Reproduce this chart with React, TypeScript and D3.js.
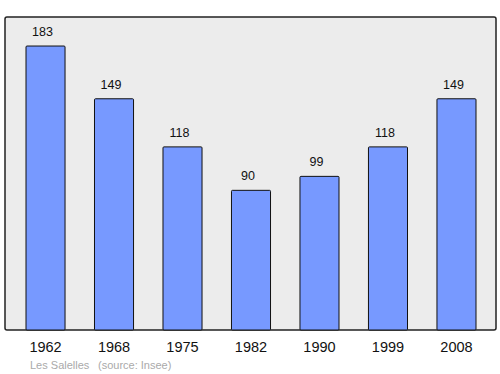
import React from "react";
import * as d3 from "d3";

const years = ["1962", "1968", "1975", "1982", "1990", "1999", "2008"];
const population = [183, 149, 118, 90, 99, 118, 149];
const commune = "Les Salelles";
const source = "(source: Insee)";

export default function App() {
  const W = 500, H = 374;
  const frame = { left: 5, top: 17, right: 496, bottom: 330 };
  const x = d3.scaleBand<string>().domain(years).range([26, 476]).paddingInner(0.43).paddingOuter(0);
  const y = d3.scaleLinear().domain([0, 201.7]).range([frame.bottom, frame.top]);
  return (
    <svg width={W} height={H} style={{ position: "absolute", left: 0, top: 0 }} fontFamily="'Liberation Sans', Arial, sans-serif">
      <rect x={0} y={0} width={W} height={H} fill="#ffffff" />
      <rect x={frame.left} y={frame.top} width={frame.right - frame.left} height={frame.bottom - frame.top}
        fill="#ececec" stroke="#222" strokeWidth={1.5} rx={2} />
      {years.map((yr, i) => {
        const v = population[i];
        const bx = x(yr)!;
        const bw = x.bandwidth();
        return (
          <g key={yr}>
            <rect x={bx} y={y(v)} width={bw} height={frame.bottom - y(v)} fill="#7799ff" stroke="#111" strokeWidth={1} rx={1} />
            <text x={bx + bw / 2 - 3} y={y(v) - 10} textAnchor="middle" fontSize={12.5} fill="#111">{v}</text>
            <text x={bx + bw / 2} y={352} textAnchor="middle" fontSize={14.5} fill="#111">{yr}</text>
          </g>
        );
      })}
      <text x={30} y={369} fontSize={11} fill="#aaaaaa">{commune}</text>
      <text x={98} y={369} fontSize={11} fill="#aaaaaa">{source}</text>
    </svg>
  );
}
